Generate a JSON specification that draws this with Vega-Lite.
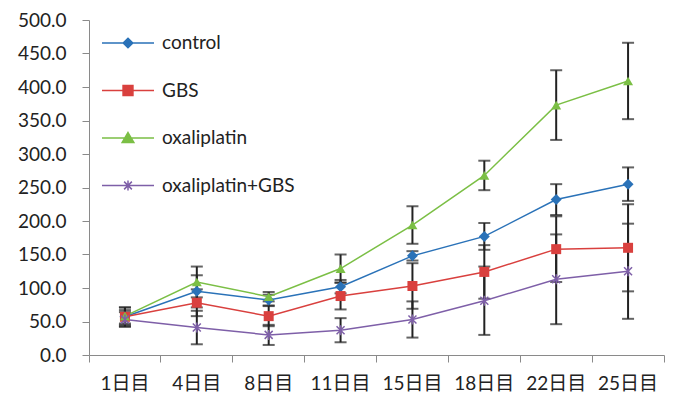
{
  "$schema": "https://vega.github.io/schema/vega-lite/v6.json",
  "width": 575,
  "height": 335,
  "autosize": {"type": "none"},
  "padding": {"left": 89, "top": 20, "right": 12, "bottom": 44},
  "background": "white",
  "config": {"view": {"stroke": null}, "font": "Lato, Noto Sans CJK JP"},
  "data": {"values": [
    {"day": "1日目", "series": "control", "value": 57, "err": 14},
    {"day": "4日目", "series": "control", "value": 95, "err": 24},
    {"day": "8日目", "series": "control", "value": 82, "err": 8},
    {"day": "11日目", "series": "control", "value": 102, "err": 10},
    {"day": "15日目", "series": "control", "value": 148, "err": 7},
    {"day": "18日目", "series": "control", "value": 177, "err": 20},
    {"day": "22日目", "series": "control", "value": 232, "err": 23},
    {"day": "25日目", "series": "control", "value": 255, "err": 25},
    {"day": "1日目", "series": "GBS", "value": 57, "err": 10},
    {"day": "4日目", "series": "GBS", "value": 78, "err": 20},
    {"day": "8日目", "series": "GBS", "value": 58, "err": 15},
    {"day": "11日目", "series": "GBS", "value": 88, "err": 20},
    {"day": "15日目", "series": "GBS", "value": 103, "err": 34},
    {"day": "18日目", "series": "GBS", "value": 124, "err": 40},
    {"day": "22日目", "series": "GBS", "value": 158, "err": 49},
    {"day": "25日目", "series": "GBS", "value": 160, "err": 65},
    {"day": "1日目", "series": "oxaliplatin", "value": 58, "err": 13},
    {"day": "4日目", "series": "oxaliplatin", "value": 109, "err": 23},
    {"day": "8日目", "series": "oxaliplatin", "value": 87, "err": 7},
    {"day": "11日目", "series": "oxaliplatin", "value": 129, "err": 21},
    {"day": "15日目", "series": "oxaliplatin", "value": 194, "err": 28},
    {"day": "18日目", "series": "oxaliplatin", "value": 268, "err": 22},
    {"day": "22日目", "series": "oxaliplatin", "value": 373, "err": 52},
    {"day": "25日目", "series": "oxaliplatin", "value": 409, "err": 57},
    {"day": "1日目", "series": "oxaliplatin+GBS", "value": 53, "err": 11},
    {"day": "4日目", "series": "oxaliplatin+GBS", "value": 41, "err": 25},
    {"day": "8日目", "series": "oxaliplatin+GBS", "value": 30, "err": 15},
    {"day": "11日目", "series": "oxaliplatin+GBS", "value": 37, "err": 18},
    {"day": "15日目", "series": "oxaliplatin+GBS", "value": 53, "err": 27},
    {"day": "18日目", "series": "oxaliplatin+GBS", "value": 81, "err": 51},
    {"day": "22日目", "series": "oxaliplatin+GBS", "value": 113, "err": 67},
    {"day": "25日目", "series": "oxaliplatin+GBS", "value": 125, "err": 71}
  ]},
  "encoding": {
    "x": {
      "field": "day", "type": "nominal",
      "sort": ["1日目", "4日目", "8日目", "11日目", "15日目", "18日目", "22日目", "25日目"],
      "scale": {"type": "band", "paddingInner": 0, "paddingOuter": 0},
      "axis": {
        "title": null, "labelAngle": 0, "bandPosition": 1, "tickExtra": true,
        "tickSize": 7, "labelPadding": 12, "labelFontSize": 19, "labelColor": "#222",
        "domainColor": "#8a8a8a", "tickColor": "#8a8a8a", "grid": false
      }
    },
    "y": {
      "field": "value", "type": "quantitative",
      "scale": {"domain": [0, 500], "nice": false},
      "axis": {
        "title": null, "values": [0, 50, 100, 150, 200, 250, 300, 350, 400, 450, 500],
        "format": ".1f", "labelFontSize": 19, "labelColor": "#222", "tickSize": 7,
        "labelPadding": 16, "domainColor": "#8a8a8a", "tickColor": "#8a8a8a", "grid": false
      }
    }
  },
  "layer": [
    {
      "mark": {"type": "errorbar", "ticks": {"size": 12, "thickness": 2}, "rule": {"strokeWidth": 2}},
      "encoding": {"yError": {"field": "err"}, "color": {"value": "#222222"}}
    },
    {
      "mark": {"type": "line", "strokeWidth": 1.5},
      "encoding": {
        "color": {
          "field": "series", "type": "nominal",
          "scale": {"domain": ["control", "GBS", "oxaliplatin", "oxaliplatin+GBS"], "range": ["#2a72b8", "#d9403e", "#7bbf45", "#7e5fa8"]},
          "legend": {
            "title": null, "orient": "none", "legendX": 25, "legendY": 9,
            "symbolSize": 676, "labelOffset": 20, "rowPadding": 23.5, "padding": 0,
            "labelFontSize": 19, "labelColor": "#222", "symbolStrokeWidth": 1.5,
            "encode": {"symbols": {"update": {
              "shape": {"signal": "datum.value === 'control' ? 'M-2,0H2M0,-0.37L0.37,0L0,0.37L-0.37,0Z' : datum.value === 'GBS' ? 'M-2,0H2M-0.38,-0.38H0.38V0.38H-0.38Z' : datum.value === 'oxaliplatin' ? 'M-2,0H2M0,-0.42L0.45,0.34H-0.45Z' : 'M-2,0H2M-0.3,-0.3L0.3,0.3M-0.3,0.3L0.3,-0.3M0,-0.38V0.38'"},
              "fill": {"signal": "scale('color', datum.value)"},
              "stroke": {"signal": "scale('color', datum.value)"},
              "strokeWidth": {"value": 1.5},
              "opacity": {"value": 1}
            }}}
          }
        }
      }
    },
    {
      "transform": [{"filter": "datum.series === 'control'"}],
      "mark": {"type": "point", "shape": "diamond", "filled": true, "size": 120, "opacity": 1, "color": "#2a72b8"}
    },
    {
      "transform": [{"filter": "datum.series === 'GBS'"}],
      "mark": {"type": "point", "shape": "square", "filled": true, "size": 100, "opacity": 1, "color": "#d9403e"}
    },
    {
      "transform": [{"filter": "datum.series === 'oxaliplatin'"}],
      "mark": {"type": "point", "shape": "triangle-up", "filled": true, "size": 100, "opacity": 1, "color": "#7bbf45"}
    },
    {
      "transform": [{"filter": "datum.series === 'oxaliplatin+GBS'"}],
      "mark": {"type": "point", "shape": "M-0.8,-0.8L0.8,0.8M-0.8,0.8L0.8,-0.8M0,-1V1", "filled": false, "size": 100, "opacity": 1, "strokeWidth": 1.5, "color": "#7e5fa8"}
    }
  ]
}
